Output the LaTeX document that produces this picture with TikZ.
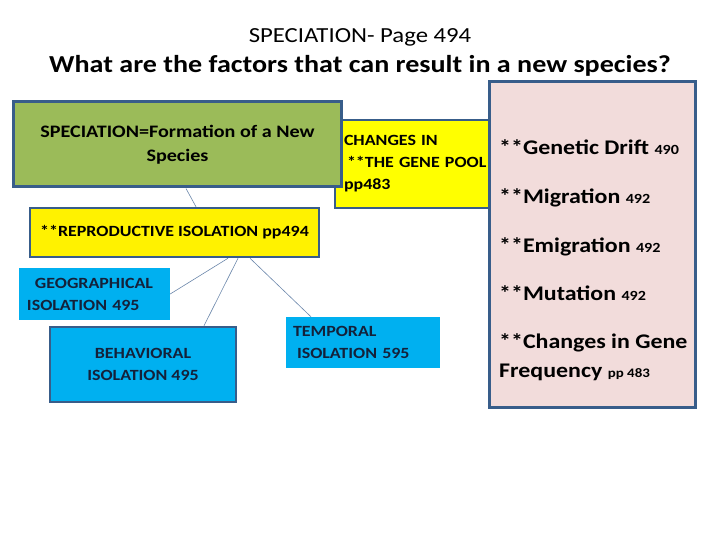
\documentclass[tikz,border=0pt]{standalone}
\usepackage{fontspec}
\setmainfont[FakeStretch=1.15]{Carlito}
\usetikzlibrary{positioning}
\definecolor{boxborder}{HTML}{385D8A}
\definecolor{linkblue}{HTML}{6A86AA}
\definecolor{olivegreen}{HTML}{9BBB59}
\definecolor{brightyellow}{HTML}{FFFF00}
\definecolor{skyblue}{HTML}{00B0F0}
\definecolor{palepink}{HTML}{F2DCDB}
\definecolor{navytext}{HTML}{14213A}

\begin{document}
\begin{tikzpicture}[x=1pt, y=-1pt,
    outlined/.style={draw=boxborder, line width=2.5pt, inner sep=0pt},
    plain/.style={inner sep=0pt},
    link/.style={draw=linkblue, line width=0.6pt},
    boxtext/.style={font=\bfseries\fontsize{15.6}{22}\selectfont},
    itemtext/.style={font=\bfseries\fontsize{20.8}{25}\selectfont, anchor=base west, inner sep=0pt}]
  \useasboundingbox (0,0) rectangle (720,540);
  % headings
  \node[font=\fontsize{21.5}{26}\selectfont, anchor=base] (title) at (360,43) {SPECIATION- Page 494};
  \node[font=\bfseries\fontsize{24.4}{28}\selectfont, anchor=base] (question) at (360,73) {What are the factors that can result in a new species?};

  % top row
  \node[outlined, line width=2pt, fill=brightyellow, minimum width=154, minimum height=88,
        boxtext, text width=152, align=left] (genepool) at (412,164)
        {\hspace*{8pt}CHANGES IN\\\hspace*{11pt}**THE GENE POOL\\\hspace*{8pt}pp483};
  \node[outlined, line width=3pt, fill=olivegreen, minimum width=328, minimum height=85,
        font=\bfseries\fontsize{17.5}{24}\selectfont, align=center] (speciation) at (177.5,144.5)
        {SPECIATION=Formation of a New\\Species};
  \node[outlined, fill=yellow, minimum width=289, minimum height=49, boxtext] (reproductive) at (174.5,232.5)
        {**REPRODUCTIVE ISOLATION pp494};

  % kinds of isolation
  \node[plain, fill=skyblue, minimum width=151, minimum height=52, boxtext, text=navytext,
        text width=135, align=left] (geographical) at (94.5,294)
        {\hspace*{8pt}GEOGRAPHICAL\\ISOLATION 495};
  \node[outlined, fill=skyblue, minimum width=186, minimum height=75, boxtext, text=navytext,
        align=center] (behavioral) at (143,364.5)
        {BEHAVIORAL\\ISOLATION 495};
  \node[plain, fill=skyblue, minimum width=154, minimum height=51, boxtext, text=navytext,
        text width=140, align=left] (temporal) at (363,342.5)
        {TEMPORAL\\\hspace*{4pt}ISOLATION 595};

  \draw[link] ([xshift=8.5pt]speciation.south) -- ([xshift=21.5pt]reproductive.north);
  \draw[link] ([xshift=53.5pt]reproductive.south) -- (geographical.east);
  \draw[link] ([xshift=63.5pt]reproductive.south) -- ([xshift=61pt]behavioral.north);
  \draw[link] ([xshift=75.5pt]reproductive.south) -- ([xshift=-52pt]temporal.north);

  % factors
  \node[outlined, line width=3pt, fill=palepink, minimum width=206, minimum height=325] (factors) at (592,244.5) {};
  \node[itemtext] (drift) at (499,155) {**Genetic Drift {\fontsize{14}{16}\selectfont 490}};
  \node[itemtext] (migration) at (499,204) {**Migration {\fontsize{14}{16}\selectfont 492}};
  \node[itemtext] (emigration) at (499,252) {**Emigration {\fontsize{14}{16}\selectfont 492}};
  \node[itemtext] (mutation) at (499,300) {**Mutation {\fontsize{14}{16}\selectfont 492}};
  \node[itemtext] (frequency) at (499,348) {**Changes in Gene};
  \node[itemtext] (frequency2) at (499,377) {Frequency {\fontsize{13}{16}\selectfont pp 483}};
\end{tikzpicture}
\end{document}
